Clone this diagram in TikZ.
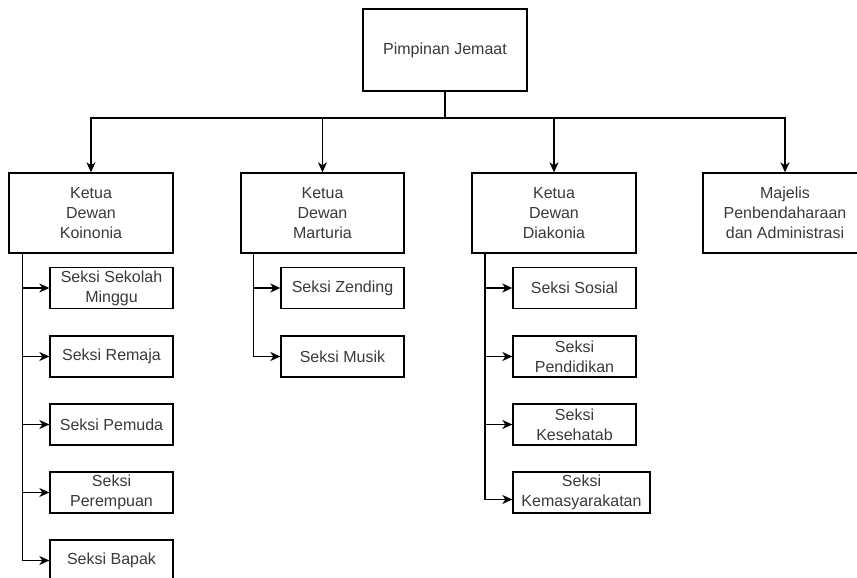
\documentclass[tikz,border=0pt]{standalone}
\usepackage{fontspec}
\setmainfont{Liberation Sans}
\usetikzlibrary{arrows.meta}
\definecolor{txt}{HTML}{3A3A3A}
\begin{document}
\begin{tikzpicture}[x=1pt,y=-1pt,
  box/.style={draw=black, line width=1.35pt, fill=white, inner sep=0pt, align=center,
    text=txt, font=\fontsize{16}{19.8}\selectfont},
  headbox/.style={box, minimum width=164pt, minimum height=80pt},
  subbox/.style={box, minimum width=123pt, minimum height=41pt},
  link/.style={draw=black, line width=1.35pt, -{Stealth[length=10pt,width=9pt,inset=3pt]}}]
\clip (0,0) rectangle (857,578);
\useasboundingbox (0,0) rectangle (857,578);

% top of the hierarchy
\node[headbox, minimum height=82pt] (top) at (445,50) {Pimpinan Jemaat};
\coordinate (bus) at (445,118);

% second level
\node[headbox] (k) at (91,213)  {Ketua\\Dewan\\Koinonia};
\node[headbox, minimum width=163pt] (m) at (322.5,213) {Ketua\\Dewan\\Marturia};
\node[headbox] (d) at (554,213) {Ketua\\Dewan\\Diakonia};
\node[headbox] (j) at (785,213) {Majelis\\Penbendaharaan\\dan Administrasi};

\draw[link] (top.south) -- (bus) -| (k.north);
\draw[link] (top.south) -- (bus) -| (m.north);
\draw[link] (top.south) -- (bus) -| (d.north);
\draw[link] (top.south) -- (bus) -| (j.north);

% Koinonia sections
\node[subbox] (k1) at (111.5,288)   {Seksi Sekolah\\Minggu};
\node[subbox] (k2) at (111.5,356.5) {Seksi Remaja};
\node[subbox] (k3) at (111.5,424.5) {Seksi Pemuda};
\node[subbox] (k4) at (111.5,492.5) {Seksi\\Perempuan};
\node[subbox] (k5) at (111.5,560.5) {Seksi Bapak};
\coordinate (kt) at ([xshift=14pt]k.south west);
\foreach \s in {k1,k2,k3,k4,k5} \draw[link] (kt) |- (\s.west);

% Marturia sections
\node[subbox] (m1) at (342.5,288)   {Seksi Zending};
\node[subbox] (m2) at (342.5,356.5) {Seksi Musik};
\coordinate (mt) at ([xshift=13pt]m.south west);
\foreach \s in {m1,m2} \draw[link] (mt) |- (\s.west);

% Diakonia sections
\node[subbox] (d1) at (574.5,288)   {Seksi Sosial};
\node[subbox] (d2) at (574.5,356.5) {Seksi\\Pendidikan};
\node[subbox] (d3) at (574.5,424.5) {Seksi\\Kesehatab};
\node[subbox, minimum width=137pt] (d4) at (581.5,492.5) {Seksi\\Kemasyarakatan};
\coordinate (dt) at ([xshift=13.5pt]d.south west);
\foreach \s in {d1,d2,d3} \draw[link] (dt) |- (\s.west);
\draw[link] (dt) |- ([yshift=-7pt]d4.west);
\end{tikzpicture}
\end{document}
